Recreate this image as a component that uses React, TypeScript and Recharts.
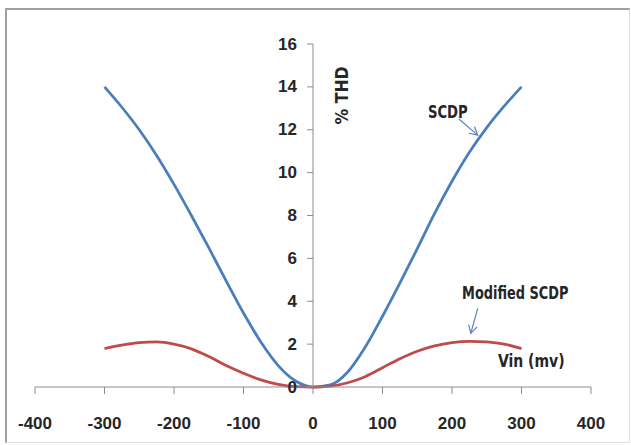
import { LineChart, Line, XAxis, YAxis, ReferenceLine, ReferenceDot } from 'recharts';

// Vin (mV) sample points and %THD for each curve
const vin = [-300, -275, -250, -225, -200, -175, -150, -125, -100, -75, -50, -25, 0, 25, 50, 75, 100, 125, 150, 175, 200, 225, 250, 275, 300];
const scdp = [14.0, 13.05, 12.0, 10.8, 9.45, 8.0, 6.5, 4.95, 3.45, 2.1, 1.0, 0.28, 0, 0.1, 0.7, 1.85, 3.3, 4.85, 6.45, 8.1, 9.6, 10.95, 12.1, 13.1, 14.0];
const modifiedScdp = [1.79, 1.95, 2.07, 2.1, 2.0, 1.78, 1.42, 1.0, 0.64, 0.33, 0.12, 0.02, 0, 0.04, 0.2, 0.48, 0.9, 1.32, 1.67, 1.92, 2.07, 2.13, 2.1, 2.0, 1.79];

const xTicks = [-400, -300, -200, -100, 0, 100, 200, 300, 400];
const yTicks = [0, 2, 4, 6, 8, 10, 12, 14, 16];

const data = vin.map((v, i) => ({ vin: v, scdp: scdp[i], modified: modifiedScdp[i] }));

const TICK_FONT = "'Liberation Sans', Arial, sans-serif";
const NOTE_FONT = "'Liberation Sans Narrow', 'DejaVu Sans Condensed', sans-serif";
const TEXT = '#262626';
const AXIS = '#8c8c8c';
const BLUE = '#4a7ebb';
const RED = '#be4b48';

const arrow = (color: string) => (p: any) => {
  const { x1, y1, x2, y2 } = p;
  const a = Math.atan2(y2 - y1, x2 - x1);
  const len = 9;
  const s = 0.5;
  const h1 = `${x2 - len * Math.cos(a - s)},${y2 - len * Math.sin(a - s)}`;
  const h2 = `${x2 - len * Math.cos(a + s)},${y2 - len * Math.sin(a + s)}`;
  return (
    <g>
      <line x1={x1} y1={y1} x2={x2} y2={y2} stroke={color} strokeWidth={1.2} />
      <polyline points={`${h1} ${x2},${y2} ${h2}`} fill="none" stroke={color} strokeWidth={1.2} />
    </g>
  );
};

// text squeezed along its own direction to match the condensed look
const note = (text: string, squeeze = 1, rotate = false) => (p: any) => (
  <text
    x={0}
    y={0}
    textAnchor="middle"
    dominantBaseline="central"
    fill={TEXT}
    fontSize={17.5}
    fontWeight={700}
    fontFamily={NOTE_FONT}
    transform={`translate(${p.cx} ${p.cy})${rotate ? ' rotate(-90)' : ''} scale(${squeeze} 1)`}
  >
    {text}
  </text>
);

const yTick = (v: number) => (p: any) => (
  <g>
    <line x1={p.cx - 6} y1={p.cy} x2={p.cx} y2={p.cy} stroke={AXIS} strokeWidth={1} />
    <text x={p.cx - 16} y={p.cy} textAnchor="end" dominantBaseline="central" fill={TEXT} fontSize={17} fontWeight={700} fontFamily={TICK_FONT}>
      {v}
    </text>
  </g>
);

export default function App() {
  return (
    <div style={{ position: 'absolute', left: 0, top: 0, width: 631, height: 445, background: '#fff' }}>
      <div
        style={{
          position: 'absolute', left: 5, top: 8, width: 622, height: 432,
          borderLeft: '2px solid #a0a0a0', borderTop: '2px solid #a0a0a0',
          borderRight: '1px solid #e0e0e0', borderBottom: '1px solid #e0e0e0',
        }}
      />
      <div style={{ position: 'absolute', left: 0, top: 0 }}>
        <LineChart width={631} height={445} data={data} margin={{ top: 44, right: 40, bottom: 18, left: 35 }}>
          <XAxis
            dataKey="vin"
            type="number"
            domain={[-400, 400]}
            ticks={xTicks}
            height={40}
            stroke={AXIS}
            tickSize={7}
            tickMargin={23}
            tick={{ fill: TEXT, fontSize: 17, fontWeight: 700, fontFamily: TICK_FONT }}
          />
          <YAxis type="number" domain={[0, 16]} ticks={yTicks} hide />
          <ReferenceLine x={0} stroke={AXIS} strokeWidth={1} />
          {yTicks.map((v) => (
            <ReferenceDot key={v} x={0} y={v} r={0} shape={yTick(v)} />
          ))}
          <Line type="monotone" dataKey="scdp" stroke={BLUE} strokeWidth={2.75} dot={false} isAnimationActive={false} />
          <Line type="monotone" dataKey="modified" stroke={RED} strokeWidth={2.75} dot={false} isAnimationActive={false} />
          <ReferenceDot x={42} y={13.6} r={0} shape={note('% THD', 1, true)} />
          <ReferenceDot x={194} y={12.84} r={0} shape={note('SCDP', 0.84)} />
          <ReferenceDot x={291} y={4.38} r={0} shape={note('Modified SCDP', 0.82)} />
          <ReferenceDot x={314} y={1.19} r={0} shape={note('Vin (mv)', 0.89)} />
          <ReferenceLine segment={[{ x: 210, y: 12.5 }, { x: 237, y: 11.75 }]} shape={arrow('#5a82c4')} />
          <ReferenceLine segment={[{ x: 237, y: 3.67 }, { x: 227, y: 2.5 }]} shape={arrow('#5a82c4')} />
        </LineChart>
      </div>
    </div>
  );
}
